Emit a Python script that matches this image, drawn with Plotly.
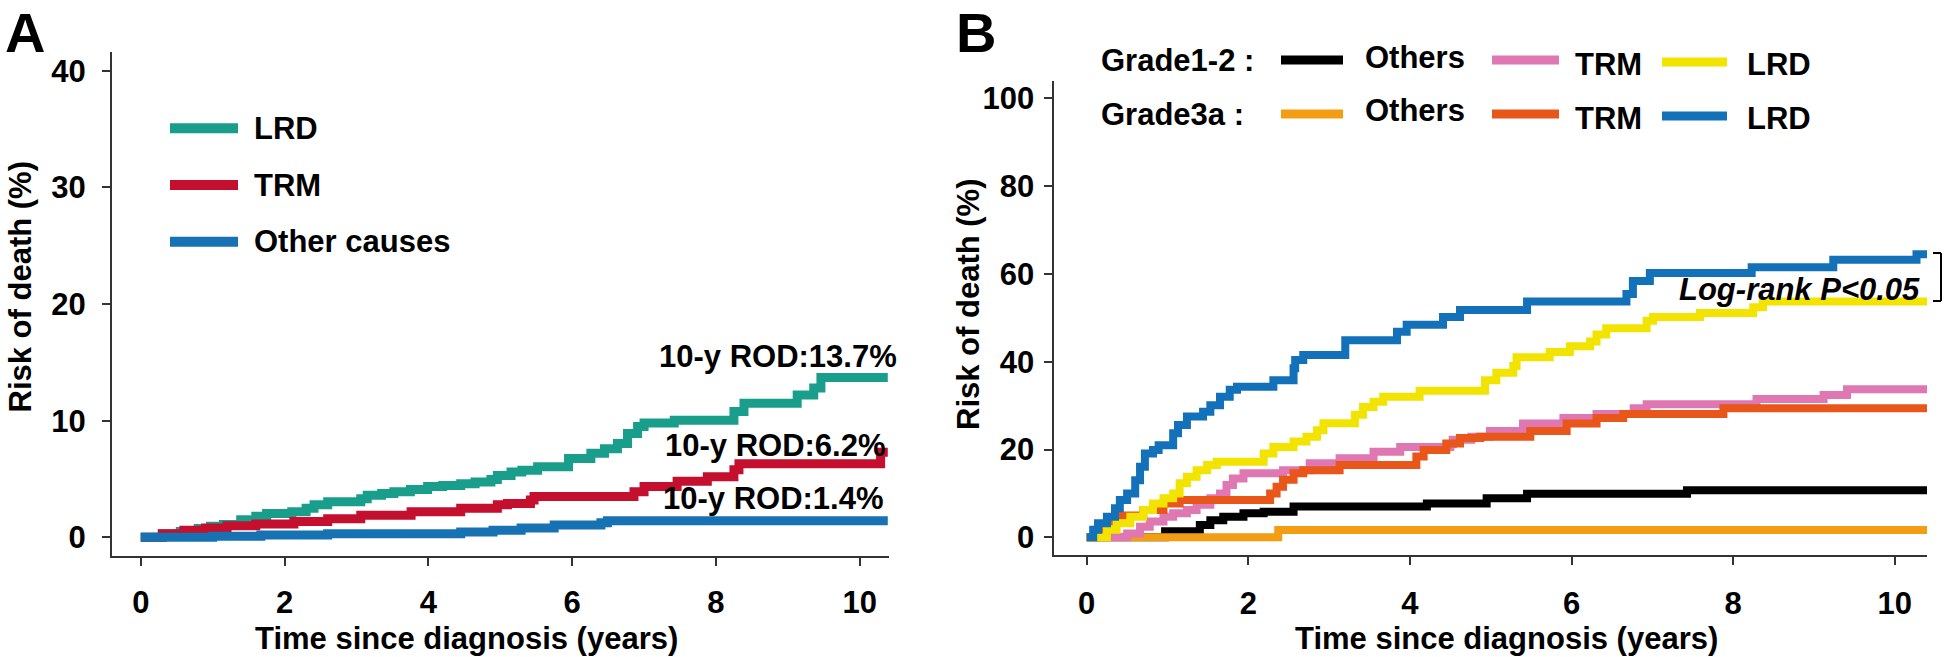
import plotly.graph_objects as go

W, H = 1944, 657

# ---------------- Panel A data (time in years, cumulative risk %) ----------------
a_lrd_t = [0, 0.3, 0.55, 0.8, 0.97, 1.15, 1.39, 1.6, 1.75, 2.1, 2.3, 2.41, 2.6, 3.06, 3.15, 3.35, 3.52, 3.75, 3.99,
           4.2, 4.45, 4.65, 4.87, 4.96, 5.15, 5.3, 5.52, 5.95, 6.26, 6.45, 6.63, 6.77, 6.91, 7.0, 7.42, 8.25, 8.39,
           9.13, 9.36, 9.46, 10.39]
a_lrd_y = [0, 0.3, 0.5, 0.75, 0.95, 1.1, 1.5, 1.8, 2.05, 2.2, 2.5, 2.8, 3.05, 3.3, 3.6, 3.75, 3.9, 4.1, 4.35,
           4.45, 4.6, 4.75, 4.95, 5.3, 5.6, 5.75, 6.05, 6.75, 7.2, 7.6, 8.05, 8.9, 9.5, 9.8, 10.05, 10.8, 11.5,
           12.2, 12.8, 13.7, 13.7]

a_trm_t = [0, 0.3, 0.6, 0.9, 1.2, 1.6, 2.13, 2.6, 3.06, 3.76, 4.45, 4.96, 5.1, 5.42, 5.47, 6.86, 7.0, 7.46, 7.88,
           8.25, 8.32, 10.29, 10.39]
a_trm_y = [0, 0.3, 0.6, 0.8, 1.0, 1.15, 1.35, 1.6, 1.9, 2.2, 2.5, 2.8, 2.9, 3.2, 3.5, 3.9, 4.35, 4.8, 5.2,
           5.8, 6.3, 7.3, 7.3]

a_oth_t = [0, 1.0, 1.67, 2.6, 4.45, 4.9, 5.29, 5.75, 6.4, 6.49, 10.39]
a_oth_y = [0, 0.1, 0.2, 0.3, 0.45, 0.6, 0.8, 1.05, 1.25, 1.42, 1.42]

a_names = ["LRD", "TRM", "Other causes"]
a_colors = ["#1A9E8C", "#C40F2F", "#1772B4"]
a_labels = ["10-y ROD:13.7%", "10-y ROD:6.2%", "10-y ROD:1.4%"]

# ---------------- Panel B data ----------------
b_g12_oth_t = [0, 0.97, 1.4, 1.53, 1.69, 1.94, 2.19, 2.56, 4.21, 4.95, 5.45, 7.43, 10.4]
b_g12_oth_y = [0, 1.4, 2.8, 3.9, 4.7, 5.5, 5.8, 7.0, 7.7, 8.9, 9.9, 10.7, 10.7]

b_g12_trm_t = [0, 0.35, 0.5, 0.66, 0.78, 0.95, 1.07, 1.24, 1.36, 1.53, 1.65, 1.73, 1.81, 1.94, 2.43, 2.76, 3.13,
               3.55, 3.88, 4.5, 4.53, 4.76, 4.99, 5.4, 5.9, 6.31, 6.77, 6.93, 8.29, 9.12, 9.41, 10.4]
b_g12_trm_y = [0, 0, 0.9, 2.4, 3.6, 4.7, 5.5, 6.2, 7.4, 8.9, 10.0, 11.9, 13.4, 14.6, 15.3, 16.9, 18.0,
               19.5, 20.6, 21.2, 22.2, 22.9, 24.2, 25.9, 27.2, 28.1, 29.4, 30.3, 31.5, 32.4, 33.7, 33.7]

b_g12_lrd_t = [0, 0.12, 0.25, 0.37, 0.54, 0.7, 0.82, 0.95, 1.07, 1.15, 1.24, 1.36, 1.49, 1.61, 2.19, 2.31, 2.56,
               2.72, 2.85, 2.93, 3.32, 3.42, 3.55, 3.67, 4.12, 4.93, 5.07, 5.28, 5.32, 5.73, 5.98, 6.23, 6.31,
               6.43, 6.93, 7.01, 7.59, 8.25, 8.37, 10.4]
b_g12_lrd_y = [0, 0, 1.7, 3.2, 4.7, 6.2, 7.7, 8.9, 10.0, 12.3, 13.8, 15.3, 16.5, 17.2, 19.1, 20.6, 21.8,
               22.9, 24.4, 26.0, 27.9, 29.7, 30.9, 32.0, 33.4, 35.8, 37.5, 39.0, 41.0, 42.2, 43.5, 44.6, 46.2,
               47.6, 49.3, 50.2, 51.1, 52.4, 53.7, 53.7]

b_g3a_oth_t = [0, 2.37, 10.4]
b_g3a_oth_y = [0, 1.66, 1.66]

b_g3a_trm_t = [0, 0.12, 0.25, 0.37, 0.7, 0.95, 1.15, 2.27, 2.35, 2.43, 2.56, 2.68, 3.13, 4.08, 4.17, 4.45, 4.62,
               4.87, 5.49, 5.94, 6.31, 6.64, 7.88, 10.4]
b_g3a_trm_y = [0, 1.7, 3.6, 5.0, 6.2, 7.7, 8.5, 10.0, 11.5, 13.1, 14.6, 15.3, 16.5, 18.4, 19.9, 21.4, 22.6,
               22.9, 24.2, 25.9, 27.2, 28.1, 29.4, 29.4]

b_g3a_lrd_t = [0, 0.08, 0.14, 0.25, 0.35, 0.41, 0.5, 0.6, 0.66, 0.72, 0.82, 0.89, 1.07, 1.13, 1.24, 1.44, 1.53,
               1.65, 1.77, 1.86, 2.31, 2.56, 2.58, 2.68, 3.2, 3.84, 3.96, 4.41, 4.62, 5.45, 6.68, 6.76, 6.97,
               8.23, 9.24, 10.27, 10.4]
b_g3a_lrd_y = [0, 1.7, 3.2, 4.7, 6.6, 8.5, 10.0, 13.0, 16.1, 19.1, 19.9, 21.0, 23.7, 25.6, 27.5, 28.6, 30.1,
               32.0, 33.6, 34.3, 35.8, 38.5, 40.4, 41.5, 44.9, 46.8, 48.4, 50.2, 51.8, 53.7, 55.4, 58.4, 60.2,
               61.5, 63.2, 64.5, 64.5]

b_colors = {"g12_oth": "#000000", "g12_trm": "#DF77B2", "g12_lrd": "#F2E400",
            "g3a_oth": "#F29D12", "g3a_trm": "#E8561A", "g3a_lrd": "#1271B8"}

x_ticks = [0, 2, 4, 6, 8, 10]
a_yticks = [0, 10, 20, 30, 40]
b_yticks = [0, 20, 40, 60, 80, 100]

FONT = "Liberation Sans, Arial, Helvetica, sans-serif"
FS = 31

fig = go.Figure()

# Panel A traces
for t, y, c, n in [(a_lrd_t, a_lrd_y, a_colors[0], a_names[0]),
                   (a_trm_t, a_trm_y, a_colors[1], a_names[1]),
                   (a_oth_t, a_oth_y, a_colors[2], a_names[2])]:
    fig.add_trace(go.Scatter(x=t, y=y, mode="lines", line=dict(color=c, width=9, shape="hv"),
                             name=n, xaxis="x", yaxis="y", showlegend=False, hoverinfo="skip"))

# Panel B traces (drawing order)
b_series = [("g12_oth", b_g12_oth_t, b_g12_oth_y), ("g3a_oth", b_g3a_oth_t, b_g3a_oth_y),
            ("g12_trm", b_g12_trm_t, b_g12_trm_y), ("g3a_trm", b_g3a_trm_t, b_g3a_trm_y),
            ("g12_lrd", b_g12_lrd_t, b_g12_lrd_y), ("g3a_lrd", b_g3a_lrd_t, b_g3a_lrd_y)]
for key, t, y in b_series:
    fig.add_trace(go.Scatter(x=t, y=y, mode="lines", line=dict(color=b_colors[key], width=8, shape="hv"),
                             name=key, xaxis="x2", yaxis="y2", showlegend=False, hoverinfo="skip"))


def px(x):
    return x / W


def py(y):
    return 1 - y / H


axis_common = dict(showline=True, linecolor="#333333", linewidth=2, ticks="outside", ticklen=8,
                   tickwidth=2, tickcolor="#333333", showgrid=False, zeroline=False,
                   tickfont=dict(family=FONT, size=FS, color="black", weight="bold"),
                   automargin=False, fixedrange=True)

fig.update_layout(
    width=W, height=H, margin=dict(l=0, r=0, t=0, b=0),
    paper_bgcolor="white", plot_bgcolor="white", showlegend=False,
    xaxis=dict(domain=[px(112), px(888.5)], range=[-0.4, 10.4], tickvals=x_ticks, anchor="y",
               ticklabelstandoff=10, **axis_common),
    yaxis=dict(domain=[py(556), py(52.2)], range=[-1.6, 41.6], tickvals=a_yticks, anchor="x",
               ticklabelstandoff=10, **axis_common),
    xaxis2=dict(domain=[px(1054.4), px(1927)], range=[-0.4, 10.4], tickvals=x_ticks, anchor="y2",
                ticklabelstandoff=12, **axis_common),
    yaxis2=dict(domain=[py(554.9), py(80.7)], range=[-4, 104], tickvals=b_yticks, anchor="x2",
                ticklabelstandoff=4, **axis_common),
)

ann = []
shapes = []


def text(x, y, s, size=FS, xanchor="center", yanchor="middle", angle=0, style="normal"):
    ann.append(dict(x=px(x), y=py(y), xref="paper", yref="paper", text=s, showarrow=False,
                    xanchor=xanchor, yanchor=yanchor, textangle=angle, borderpad=0,
                    font=dict(family=FONT, size=size, color="black", weight="bold", style=style)))


def seg(x0, y0, x1, y1, color, width):
    shapes.append(dict(type="line", xref="paper", yref="paper", x0=px(x0), y0=py(y0), x1=px(x1), y1=py(y1),
                       line=dict(color=color, width=width)))


# Panel letters
text(25, 0, "A", size=56, yanchor="top")
text(976, 0, "B", size=56, yanchor="top")

# Axis titles
text(466.7, 657, "Time since diagnosis (years)", yanchor="bottom")
text(1506.7, 657, "Time since diagnosis (years)", yanchor="bottom")
text(20, 287.5, "Risk of death (%)", angle=-90)
text(968, 305, "Risk of death (%)", angle=-90)

# Panel A legend
for yy, c, n in zip([128.3, 185, 241.7], a_colors, a_names):
    seg(170, yy, 238, yy, c, 10)
    text(253, yy, n, xanchor="left")

# Panel A end-of-curve labels
for lab, xr, yc in zip(a_labels, [898, 887, 885], [356, 445, 498.3]):
    text(xr, yc, lab, xanchor="right")

# Panel B legend
text(1100, 60, "Grade1-2 :", xanchor="left")
text(1100, 114, "Grade3a :", xanchor="left")
row1 = [("g12_oth", "Others"), ("g12_trm", "TRM"), ("g12_lrd", "LRD")]
row2 = [("g3a_oth", "Others"), ("g3a_trm", "TRM"), ("g3a_lrd", "LRD")]
line_x = [(1281, 1343), (1492, 1559), (1662, 1727)]
text_x = [1364, 1574, 1746]
line_dy = [0, 0, 2]
text_dy = [-3, 4, 4]
for (rows, ybase) in [(row1, 60), (row2, 114)]:
    for i, (key, lab) in enumerate(rows):
        seg(line_x[i][0], ybase + line_dy[i], line_x[i][1], ybase + line_dy[i], b_colors[key], 9)
        text(text_x[i], ybase + text_dy[i], lab, xanchor="left")

# Log-rank annotation and bracket
text(1921, 289, "Log-rank P&lt;0.05", xanchor="right", style="italic")
seg(1941, 253, 1941, 301, "black", 2)
seg(1933, 253, 1941, 253, "black", 2)
seg(1933, 301, 1941, 301, "black", 2)

fig.update_layout(annotations=ann, shapes=shapes)
fig.write_html("out.html", config={"displayModeBar": False},
               post_script="document.body.style.margin='0px';")
